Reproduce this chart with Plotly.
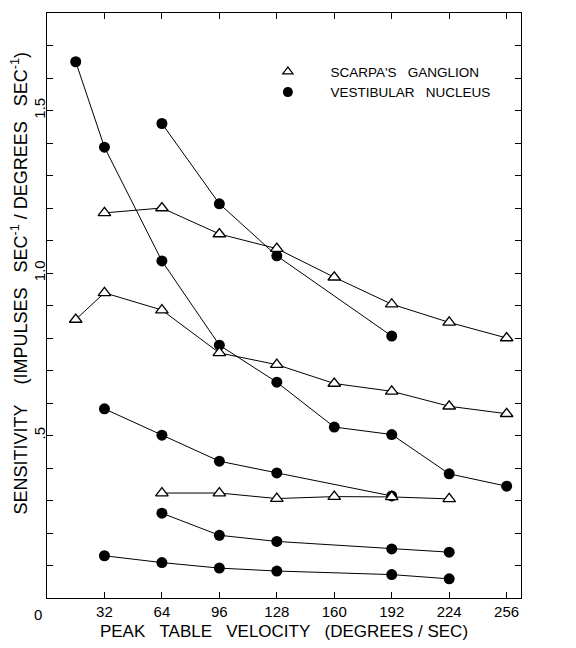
import plotly.graph_objects as go

# Peak table velocity (deg/sec) and sensitivity values
vn1_x = [16, 32, 64, 96, 128, 160, 192, 224, 256]
vn1_y = [1.650, 1.387, 1.037, 0.778, 0.664, 0.526, 0.503, 0.382, 0.344]
vn2_x = [64, 96, 128, 192]
vn2_y = [1.460, 1.213, 1.053, 0.806]
vn3_x = [32, 64, 96, 128, 192]
vn3_y = [0.582, 0.501, 0.421, 0.385, 0.314]
vn4_x = [64, 96, 128, 192, 224]
vn4_y = [0.261, 0.193, 0.174, 0.151, 0.141]
vn5_x = [32, 64, 96, 128, 192, 224]
vn5_y = [0.130, 0.109, 0.092, 0.083, 0.072, 0.059]

sg1_x = [32, 64, 96, 128, 160, 192, 224, 256]
sg1_y = [1.185, 1.200, 1.120, 1.075, 0.987, 0.904, 0.848, 0.800]
sg2_x = [16, 32, 64, 96, 128, 160, 192, 224, 256]
sg2_y = [0.857, 0.939, 0.886, 0.754, 0.718, 0.660, 0.636, 0.590, 0.567]
sg3_x = [64, 96, 128, 160, 192, 224]
sg3_y = [0.323, 0.323, 0.306, 0.312, 0.311, 0.305]

x_ticks = [32, 64, 96, 128, 160, 192, 224, 256]
x_tick_labels = ["32", "64", "96", "128", "160", "192", "224", "256"]
y_ticks = [0.1, 0.2, 0.3, 0.4, 0.5, 0.6, 0.7, 0.8, 0.9, 1.0, 1.1, 1.2, 1.3, 1.4, 1.5, 1.6, 1.7]
y_tick_labels = ["", "", "", "", ".5", "", "", "", "", "1.0", "", "", "", "", "1.5", "", ""]

FONT = "Liberation Sans"
NB = "\u00a0"

fig = go.Figure()

circle = dict(symbol="circle", size=11, color="black")
line = dict(color="black", width=1)

for xs, ys in [(vn1_x, vn1_y), (vn2_x, vn2_y), (vn3_x, vn3_y), (vn4_x, vn4_y), (vn5_x, vn5_y)]:
    fig.add_trace(go.Scatter(x=xs, y=ys, mode="lines+markers", marker=circle, line=line,
                             showlegend=False, cliponaxis=False))
for xs, ys in [(sg1_x, sg1_y), (sg2_x, sg2_y), (sg3_x, sg3_y)]:
    fig.add_trace(go.Scatter(x=xs, y=ys, mode="lines+markers",
                             marker=dict(symbol="triangle-up", size=11, color="white",
                                         line=dict(width=1.3, color="black")),
                             line=line, showlegend=False, cliponaxis=False))

# legend entries (marker only)
fig.add_trace(go.Scatter(x=[None], y=[None], mode="markers",
                         marker=dict(symbol="triangle-up-open", size=9, color="black",
                                     line=dict(width=1.2, color="black")),
                         name=NB * 6 + "SCARPA'S" + NB * 3 + "GANGLION", legendrank=1))
fig.add_trace(go.Scatter(x=[None], y=[None], mode="markers",
                         marker=dict(symbol="circle", size=10, color="black"),
                         name=NB * 6 + "VESTIBULAR" + NB * 3 + "NUCLEUS", legendrank=2))

fig.update_layout(
    width=576, height=648,
    margin=dict(l=47, r=55, t=13, b=50),
    paper_bgcolor="white", plot_bgcolor="white",
    font=dict(family=FONT, color="black", size=15),
    legend=dict(x=0.466, y=0.926, xanchor="left", yanchor="top",
                bgcolor="rgba(0,0,0,0)", font=dict(size=13.5, family=FONT),
                tracegroupgap=0, itemsizing="trace"),
    xaxis=dict(range=[0, 264], tickvals=x_ticks, ticktext=x_tick_labels,
               ticks="inside", ticklen=6, tickcolor="black", mirror="ticks",
               showline=True, linecolor="black", linewidth=1, showgrid=False, zeroline=False,
               tickfont=dict(size=15), automargin=False,
               title=dict(text="PEAK" + NB * 3 + "TABLE" + NB * 3 + "VELOCITY" + NB * 3 + "(DEGREES / SEC)",
                          font=dict(size=17), standoff=6)),
    yaxis=dict(range=[0, 1.8], tickvals=y_ticks, ticktext=y_tick_labels,
               ticks="inside", ticklen=6, tickcolor="black", mirror="ticks",
               showline=True, linecolor="black", linewidth=1, showgrid=False, zeroline=False,
               tickangle=-90, tickfont=dict(size=15), automargin=False,
               ticklabelstandoff=-5),
)

fig.add_annotation(text="SENSITIVITY" + NB * 4 + "(IMPULSES" + NB * 3 + "SEC<sup>-1</sup>" + NB + "/" + NB
                        + "DEGREES" + NB * 3 + "SEC<sup>-1</sup>)",
                   x=0, y=0.5, xref="paper", yref="paper", showarrow=False, textangle=-90,
                   xanchor="center", yanchor="middle", xshift=-27, yshift=22,
                   font=dict(size=18, family=FONT))

fig.add_annotation(text="0", x=0, y=0, xref="x", yref="y", showarrow=False,
                   xanchor="center", yanchor="top", yshift=-6, xshift=-9,
                   font=dict(size=15, family=FONT))

fig.write_html("out.html", config={"displayModeBar": False},
               post_script="document.body.style.margin='0';")
